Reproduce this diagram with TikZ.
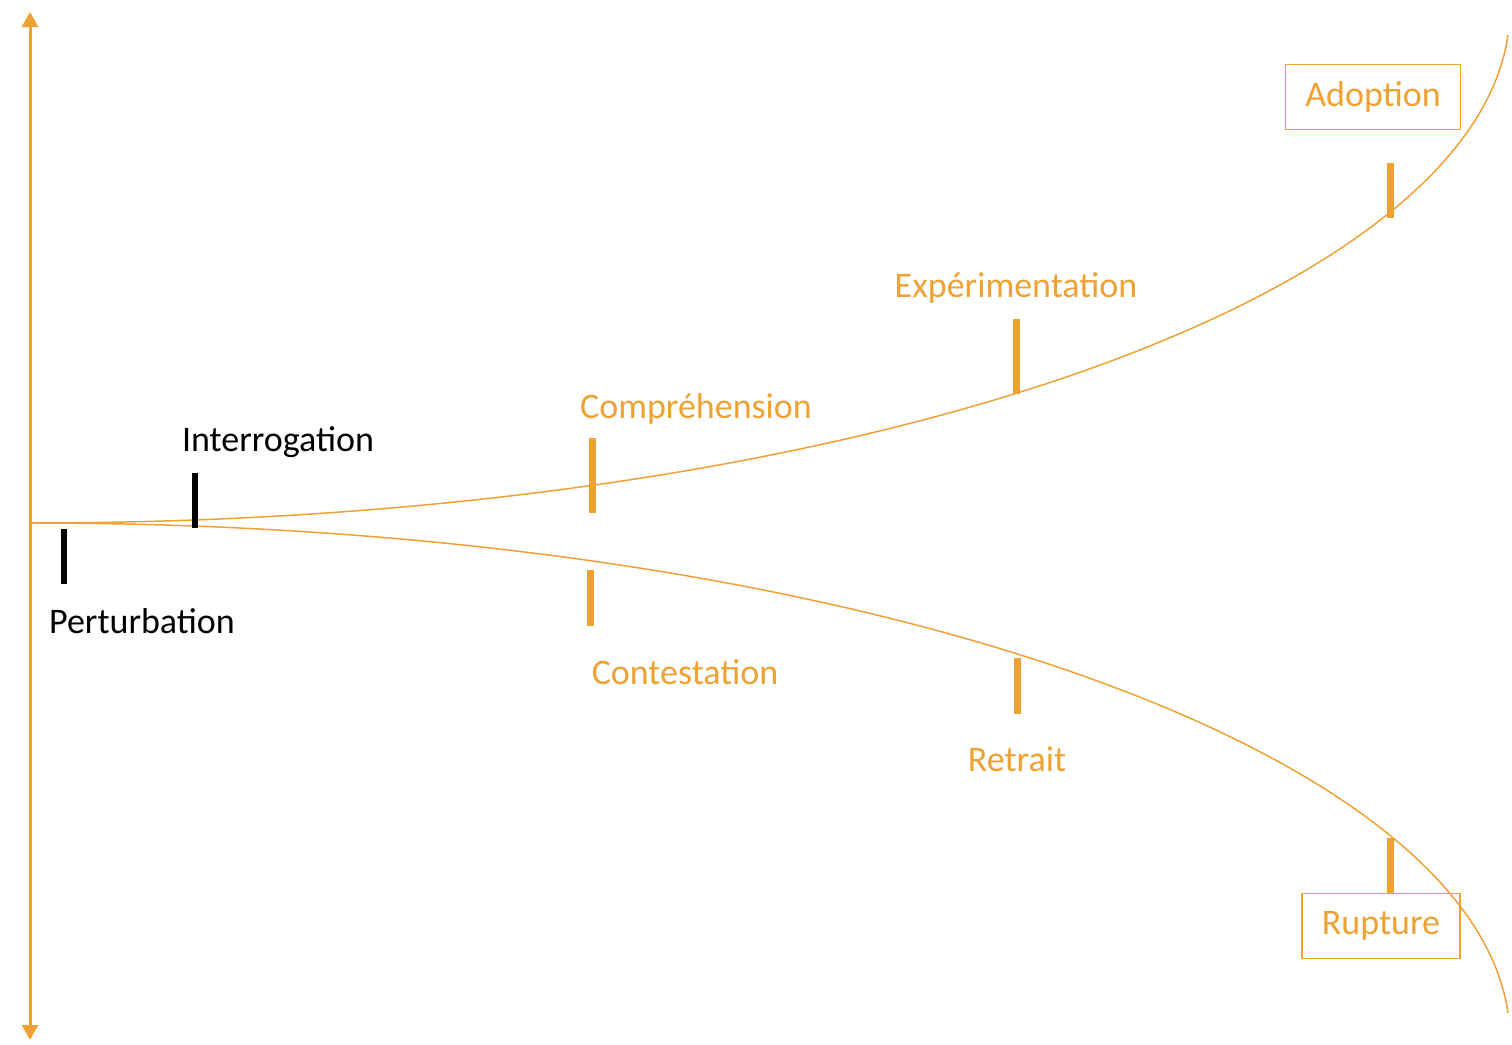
\documentclass[tikz,border=0pt]{standalone}
\usepackage{fontspec}
\setmainfont{Carlito}
\usetikzlibrary{arrows.meta}
\definecolor{amber}{RGB}{238,161,52}
\tikzstyle{first} = [text=black, font=\fontsize{18}{22}\selectfont]
\tikzstyle{phase} = [text=amber, font=\fontsize{18}{22}\selectfont]
\tikzstyle{outcome} = [rectangle, draw=amber, line width=0.75pt, text=amber, inner xsep=10pt, minimum height=32.5pt, font=\fontsize{18}{22}\selectfont]
\tikzstyle{axis} = [amber, line width=1.5pt, {Triangle[width=8pt,length=7.5pt]}-{Triangle[width=8pt,length=7.5pt]}]
\tikzstyle{branch} = [amber, line width=0.75pt]
\tikzstyle{tick} = [amber, line width=3.5pt]
\tikzstyle{blacktick} = [black, line width=3pt]

\begin{document}
\begin{tikzpicture}[x=0.5pt, y=-0.5pt]
    \useasboundingbox (0,0) rectangle (1512,1045);
    \coordinate (origin) at (30,523);

    \draw [axis] (30,12) -- (30,1040);

    \draw [branch] (origin) .. controls (850,523) and (1470,300) .. (1508,35);
    \draw [branch] (origin) .. controls (850,523) and (1470,748) .. (1508,1013);

    \draw [blacktick] (195,473) -- (195,528);
    \draw [blacktick] (64,529) -- (64,584);
    \draw [tick] (592,438) -- (592,513);
    \draw [tick] (1016,319) -- (1016,394);
    \draw [tick] (1390,163) -- (1390,218);
    \draw [tick] (590,570) -- (590,626);
    \draw [tick] (1017,658) -- (1017,714);
    \draw [tick] (1390,838) -- (1390,893);

    \node (interrogation) [first] at (278,442) {Interrogation};
    \node (perturbation) [first] at (142,621) {Perturbation};
    \node (comprehension) [phase] at (696,409) {Compréhension};
    \node (experimentation) [phase] at (1016,288) {Expérimentation};
    \node (contestation) [phase] at (685,672) {Contestation};
    \node (retrait) [phase] at (1017,759) {Retrait};
    \node (adoption) [outcome] at (1373,97) {Adoption};
    \node (rupture) [outcome] at (1381,926) {Rupture};
  \end{tikzpicture}
\end{document}
